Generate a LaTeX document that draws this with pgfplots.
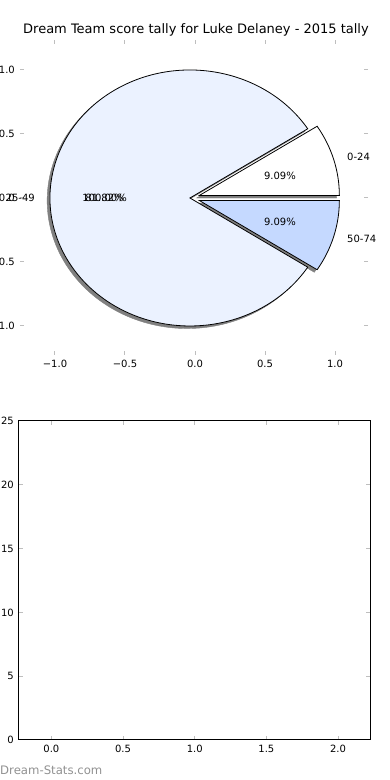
\documentclass[border=0pt]{standalone}
\usepackage{fontspec}
\setmainfont{DejaVu Sans}
\usepackage{pgfplots}
\usepackage{pgfplotstable}
\pgfplotsset{compat=1.18}
\definecolor{sliceA}{RGB}{255,255,255}
\definecolor{sliceB}{RGB}{235,242,255}
\definecolor{sliceC}{RGB}{197,217,255}
\definecolor{shadowgray}{RGB}{128,128,128}
\definecolor{tickgray}{RGB}{190,190,190}
\definecolor{wmgray}{RGB}{145,145,145}
\pgfplotstableread{
label count explode
0-24  1 0.07
25-49 9 0.0
50-74 1 0.07
}\pietable
% angles from the counts
\pgfplotstablegetelem{0}{count}\of\pietable \let\cA\pgfplotsretval
\pgfplotstablegetelem{1}{count}\of\pietable \let\cB\pgfplotsretval
\pgfplotstablegetelem{2}{count}\of\pietable \let\cC\pgfplotsretval
\pgfmathsetmacro{\tot}{\cA+\cB+\cC}
\pgfmathsetmacro{\aA}{360*\cA/\tot}
\pgfmathsetmacro{\aB}{\aA+360*\cB/\tot}
\def\cx{-0.036}
\newcommand{\wedgepath}[6]{% cx, cy, start, end, explode, style
  \pgfmathsetmacro{\mid}{(#3+#4)/2}%
  \pgfmathsetmacro{\ox}{#1+#5*cos(\mid)}%
  \pgfmathsetmacro{\oy}{#2+#5*sin(\mid)}%
  \pgfmathsetmacro{\sx}{\ox+cos(#3)}%
  \pgfmathsetmacro{\sy}{\oy+sin(#3)}%
  \edef\tmp{\noexpand\path[#6] (axis cs:\ox,\oy) -- (axis cs:\sx,\sy) arc[start angle=#3, end angle=#4, x radius=140bp, y radius=128bp] -- cycle;}%
  \tmp}
\begin{document}
\fontsize{10bp}{12bp}\selectfont
\begin{tikzpicture}
\useasboundingbox (0,0) rectangle (390bp,780bp);
\pgfplotsset{every axis/.append style={
  font=\fontsize{10bp}{12bp}\selectfont,
  /pgf/number format/assume math mode=true,
  major tick length=4bp, tick align=inside,
  major tick style={tickgray, line width=1bp},
  xticklabel style={inner sep=0pt, anchor=north, yshift=-5bp},
  yticklabel style={inner sep=0pt, anchor=east, xshift=-5bp},
}}
% ---------- pie axis ----------
\begin{axis}[
  at={(20bp,425bp)}, anchor=south west,
  scale only axis, x=140bp, y=128bp,
  xmin=-1.25, xmax=1.236, ymin=-1.2266, ymax=1.234,
  axis line style={draw=none},
  xtick={-1,-0.5,0,0.5,1}, ytick={-1,-0.5,0,0.5,1},
  xticklabels={−1.0,−0.5,0.0,0.5,1.0},
  yticklabels={−1.0,−0.5,0.0,0.5,1.0},
  clip=false,
]
% shadows
\wedgepath{\cx-0.02}{-0.02}{0}{\aA}{0.07}{fill=shadowgray, draw=shadowgray}
\wedgepath{\cx-0.02}{-0.02}{\aA}{\aB}{0}{fill=shadowgray, draw=shadowgray}
\wedgepath{\cx-0.02}{-0.02}{\aB}{360}{0.07}{fill=shadowgray, draw=shadowgray}
% wedges
\wedgepath{\cx}{0}{\aA}{\aB}{0}{fill=sliceB, draw=black, line width=0.8bp}
\wedgepath{\cx}{0}{0}{\aA}{0.07}{fill=sliceA, draw=black, line width=0.8bp}
\wedgepath{\cx}{0}{\aB}{360}{0.07}{fill=sliceC, draw=black, line width=0.8bp}
% labels
\node[anchor=west, inner sep=0pt] at (axis cs:1.086,0.32) {0-24};
\node[anchor=west, inner sep=0pt] at (axis cs:1.086,-0.32) {50-74};
\node[inner sep=0pt] at (axis cs:0.607,0.174) {9.09\%};
\node[inner sep=0pt] at (axis cs:0.607,-0.185) {9.09\%};
\node[anchor=east, inner sep=0pt] at (axis cs:-1.143,0) {25-49};
\node[inner sep=0pt] at (axis cs:-0.646,0) {81.82\%};
\node[inner sep=0pt] at (axis cs:-0.646,0) {100.00\%};
\end{axis}
% ---------- empty bar axis ----------
\begin{axis}[
  at={(19bp,40bp)}, anchor=south west,
  scale only axis, width=351bp, height=319bp,
  xmin=-0.226, xmax=2.223, ymin=0, ymax=25,
  axis line style={black, line width=1bp},
  xtick={0,0.5,1,1.5,2}, xticklabels={0.0,0.5,1.0,1.5,2.0},
  ytick={0,5,10,15,20,25}, yticklabels={0,5,10,15,20,25},
]
\addplot[draw=none] coordinates {(0,0)};
\end{axis}
\node at (196bp,750bp) {\fontsize{13bp}{15bp}\selectfont Dream Team score tally for Luke Delaney - 2015 tally};
\node[anchor=west, inner sep=0pt, text=wmgray] at (0bp,10bp) {\fontsize{11.7bp}{14bp}\selectfont Dream-Stats.com};
\end{tikzpicture}
\end{document}
